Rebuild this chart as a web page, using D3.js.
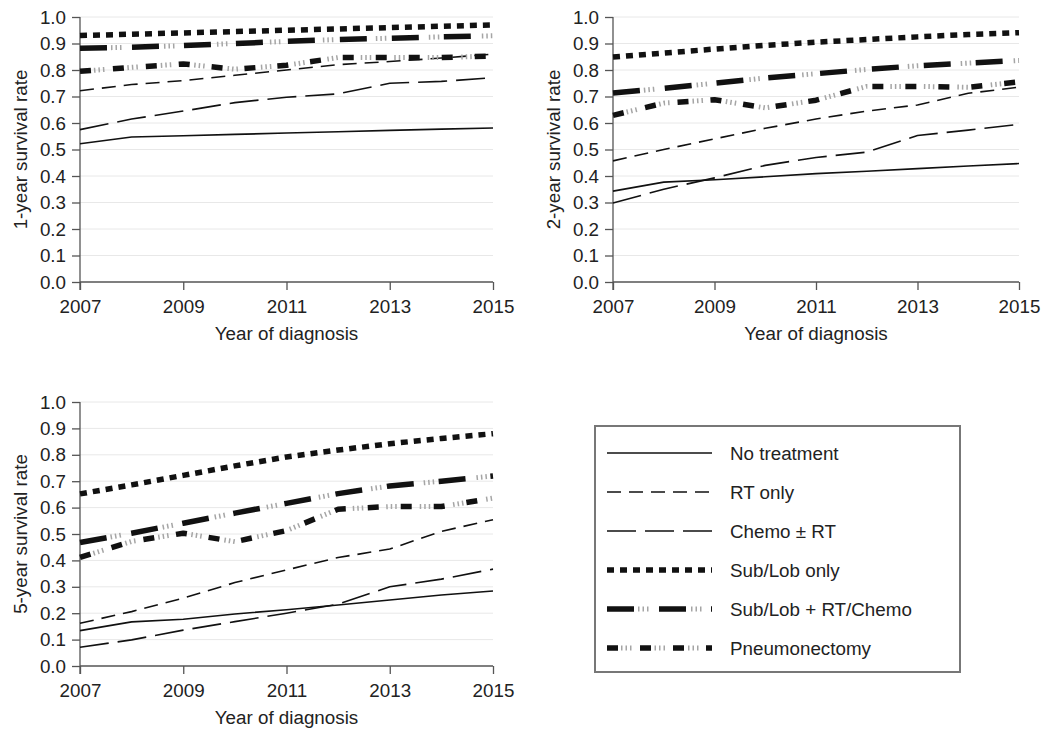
<!DOCTYPE html>
<html><head><meta charset="utf-8">
<script src="https://cdn.jsdelivr.net/npm/d3@7"></script>
<style>
body{margin:0;background:#fff;}
svg{display:block;font-family:"Liberation Sans",Arial,Helvetica,sans-serif;}
</style></head>
<body><svg id="chart" width="1051" height="731"></svg>
<script>
const years = [2007, 2008, 2009, 2010, 2011, 2012, 2013, 2014, 2015];
const xTickYears = [2007, 2009, 2011, 2013, 2015];
const yTicks = [0, 0.1, 0.2, 0.3, 0.4, 0.5, 0.6, 0.7, 0.8, 0.9, 1.0];
const seriesNames = ["No treatment", "RT only", "Chemo \u00b1 RT", "Sub/Lob only", "Sub/Lob + RT/Chemo", "Pneumonectomy"];
const panelTitles = ["1-year survival rate", "2-year survival rate", "5-year survival rate"];
const xTitle = "Year of diagnosis";

// values ordered as seriesNames
const oneYearRates = [
  [0.522, 0.547, 0.552, 0.557, 0.562, 0.567, 0.572, 0.577, 0.581],
  [0.722, 0.745, 0.76, 0.78, 0.80, 0.82, 0.832, 0.845, 0.86],
  [0.575, 0.615, 0.645, 0.677, 0.697, 0.71, 0.75, 0.757, 0.771],
  [0.93, 0.935, 0.94, 0.945, 0.95, 0.955, 0.96, 0.965, 0.97],
  [0.882, 0.886, 0.892, 0.90, 0.908, 0.915, 0.92, 0.925, 0.929],
  [0.795, 0.81, 0.823, 0.803, 0.818, 0.847, 0.847, 0.847, 0.853]
];
const twoYearRates = [
  [0.343, 0.377, 0.386, 0.397, 0.409, 0.418, 0.428, 0.438, 0.447],
  [0.457, 0.50, 0.54, 0.58, 0.615, 0.645, 0.668, 0.712, 0.735],
  [0.298, 0.35, 0.393, 0.44, 0.47, 0.49, 0.553, 0.573, 0.595],
  [0.849, 0.864, 0.879, 0.893, 0.905, 0.915, 0.925, 0.934, 0.941],
  [0.713, 0.731, 0.75, 0.77, 0.786, 0.802, 0.816, 0.826, 0.836],
  [0.629, 0.675, 0.688, 0.657, 0.686, 0.738, 0.738, 0.735, 0.755]
];
const fiveYearRates = [
  [0.134, 0.167, 0.177, 0.197, 0.213, 0.231, 0.25, 0.269, 0.284],
  [0.162, 0.206, 0.257, 0.316, 0.364, 0.411, 0.443, 0.51, 0.554],
  [0.071, 0.099, 0.136, 0.168, 0.20, 0.234, 0.30, 0.329, 0.367],
  [0.652, 0.686, 0.722, 0.758, 0.792, 0.818, 0.842, 0.862, 0.88],
  [0.468, 0.503, 0.541, 0.579, 0.616, 0.653, 0.682, 0.70, 0.72],
  [0.411, 0.472, 0.503, 0.471, 0.513, 0.594, 0.604, 0.604, 0.636]
];

const panelData = [oneYearRates, twoYearRates, fiveYearRates];
const panels = [
  {x0: 80, x1: 493, yTop: 17, yBot: 282, labelX: 20},
  {x0: 613, x1: 1019, yTop: 17, yBot: 282, labelX: 553},
  {x0: 80, x1: 493, yTop: 402, yBot: 666, labelX: 20}
];

// line styles per series: black layer + optional gray tick layer
const styles = [
  {w: 1.6, dash: null},
  {w: 1.6, dash: "14 8"},
  {w: 1.6, dash: "29 9"},
  {w: 5.5, dash: "7 6"},
  {w: 5.5, dash: "27 25", gray: "1.5 3 1.5 3 1.5 42.5", grayOff: -31},
  {w: 5.5, dash: "11 22", gray: "1.5 3 1.5 3 1.5 23", grayOff: -14}
];

const svg = d3.select("#chart");
const fontSize = 18.8;
const ff = "Liberation Sans, Arial, sans-serif";

panels.forEach((p, pi) => {
  const g = svg.append("g");
  const x = d3.scaleLinear().domain([2007, 2015]).range([p.x0, p.x1]);
  const y = d3.scaleLinear().domain([0, 1]).range([p.yBot, p.yTop]);

  // gridlines
  g.append("g").selectAll("line").data(yTicks.filter(d => d > 0)).join("line")
    .attr("x1", p.x0).attr("x2", p.x1)
    .attr("y1", d => y(d)).attr("y2", d => y(d))
    .attr("stroke", "#e8e8e8").attr("stroke-width", 1);

  // y axis
  const ya = g.append("g").attr("transform", `translate(${p.x0},0)`)
    .call(d3.axisLeft(y).tickValues(yTicks).tickFormat(d3.format(".1f")).tickSize(8).tickPadding(6));
  ya.select(".domain").remove();
  ya.selectAll(".tick line").attr("stroke", "#555").attr("stroke-width", 1.3);
  ya.selectAll("text").attr("font-size", fontSize).attr("fill", "#222").attr("font-family", ff);
  g.append("line").attr("x1", p.x0).attr("x2", p.x0).attr("y1", p.yTop).attr("y2", p.yBot + 8)
    .attr("stroke", "#555").attr("stroke-width", 1.3);

  // x axis
  const xa = g.append("g").attr("transform", `translate(0,${p.yBot})`)
    .call(d3.axisBottom(x).tickValues(xTickYears).tickFormat(d3.format("d")).tickSize(8).tickPadding(10));
  xa.select(".domain").remove();
  xa.selectAll(".tick line").attr("stroke", "#555").attr("stroke-width", 1.3);
  xa.selectAll("text").attr("font-size", fontSize).attr("fill", "#222").attr("font-family", ff);
  g.append("line").attr("x1", p.x0).attr("x2", p.x1).attr("y1", p.yBot).attr("y2", p.yBot)
    .attr("stroke", "#555").attr("stroke-width", 1.3);

  // titles
  g.append("text").attr("x", (p.x0 + p.x1) / 2).attr("y", p.yBot + 58)
    .attr("text-anchor", "middle").attr("font-size", fontSize).attr("fill", "#222").text(xTitle);
  g.append("text").attr("transform", `translate(${p.labelX},${(p.yTop + p.yBot) / 2}) rotate(-90)`)
    .attr("text-anchor", "middle").attr("dy", "0.35em").attr("font-size", fontSize).attr("fill", "#222")
    .text(panelTitles[pi]);

  const line = d3.line().x((d, i) => x(years[i])).y(d => y(d));
  panelData[pi].forEach((vals, si) => {
    const st = styles[si];
    const path = g.append("path").attr("d", line(vals)).attr("fill", "none")
      .attr("stroke", "#111").attr("stroke-width", st.w).attr("stroke-linejoin", "round");
    if (st.dash) path.attr("stroke-dasharray", st.dash);
    if (st.gray) {
      g.append("path").attr("d", line(vals)).attr("fill", "none")
        .attr("stroke", "#a5a5a5").attr("stroke-width", st.w - 0.5)
        .attr("stroke-dasharray", st.gray).attr("stroke-dashoffset", st.grayOff);
    }
  });
});

// legend
const lg = svg.append("g");
lg.append("rect").attr("x", 595).attr("y", 426).attr("width", 365).attr("height", 246)
  .attr("fill", "#fff").attr("stroke", "#777").attr("stroke-width", 2);
seriesNames.forEach((name, i) => {
  const yy = 453 + i * 39;
  const st = styles[i];
  const l = lg.append("line").attr("x1", 607).attr("x2", 712).attr("y1", yy).attr("y2", yy)
    .attr("stroke", "#111").attr("stroke-width", st.w);
  if (st.dash) l.attr("stroke-dasharray", st.dash);
  if (st.gray) {
    lg.append("line").attr("x1", 607).attr("x2", 712).attr("y1", yy).attr("y2", yy)
      .attr("stroke", "#a5a5a5").attr("stroke-width", st.w - 0.5)
      .attr("stroke-dasharray", st.gray).attr("stroke-dashoffset", st.grayOff);
  }
  lg.append("text").attr("x", 730).attr("y", yy).attr("dy", "0.35em")
    .attr("font-size", fontSize).attr("fill", "#222").text(name);
});
</script></body></html>
